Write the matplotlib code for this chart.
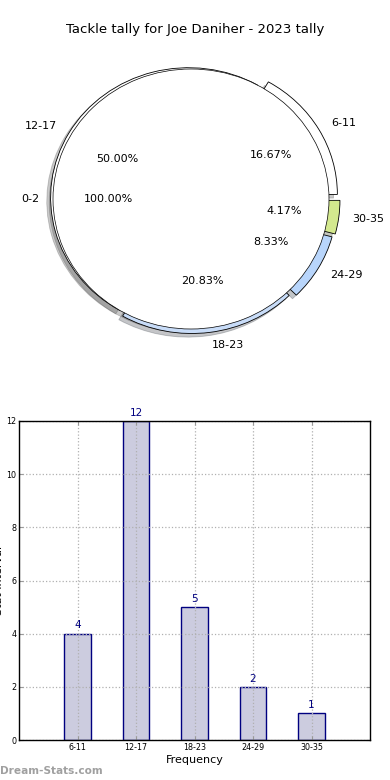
import matplotlib
matplotlib.use("Agg")
import matplotlib.pyplot as plt
from matplotlib.patches import Shadow

# data
categories = ["6-11", "12-17", "18-23", "24-29", "30-35"]
counts = [4, 12, 5, 2, 1]
pie_colors = ["#ffffff", "#ffffff", "#c8dcf8", "#b8d5fb", "#d3e88e"]
explode = [0.07, 0.02, 0.035, 0.065, 0.08]
outer_label = ["0-2"]
outer_value = [1]
yticks = [0, 2, 4, 6, 8, 10, 12]

fig = plt.figure(figsize=(3.9, 7.8), dpi=100)
fig.text(0.5, 1 - 30 / 780, "Tackle tally for Joe Daniher - 2023 tally",
         ha="center", va="center", fontsize=9.5)

# --- pie (exploded wedges with a full white disc over them) ---
ax1 = fig.add_axes([18.5 / 390, 1 - 361.5 / 780, 345 / 390, 325 / 780])
wp = dict(edgecolor="black", linewidth=0.6)
ax1.pie(counts, labels=categories, explode=explode, colors=pie_colors,
        autopct="%.2f%%", shadow=True, startangle=0, wedgeprops=wp,
        textprops=dict(fontsize=8))
ax1.pie(outer_value, labels=outer_label, colors=["white"], autopct="%.2f%%",
        shadow=True, startangle=0, wedgeprops=dict(edgecolor="black", linewidth=0.5),
        textprops=dict(fontsize=8))
for p in ax1.patches:
    if isinstance(p, Shadow):
        p.set_alpha(0.3)
ax1.set_aspect("auto")
ax1.set_xlim(-1.25, 1.25)
ax1.set_ylim(-1.25, 1.25)
ax1.axis("off")

# --- bar chart ---
ax2 = fig.add_axes([19 / 390, 1 - 740 / 780, 351 / 390, 319 / 780])
xpos = list(range(1, len(categories) + 1))
ax2.bar(xpos, counts, width=0.45, color="#ccccdf", edgecolor="navy", linewidth=1)
for x, v in zip(xpos, counts):
    ax2.text(x, v + 0.12, str(v), ha="center", va="bottom", color="navy", fontsize=7.5)

ax2.set_xlim(0, 6)
ax2.set_ylim(0, 12)
ax2.set_xticks(xpos)
ax2.set_xticklabels(categories, fontsize=5.8)
ax2.set_yticks(yticks)
ax2.set_yticklabels([str(t) for t in yticks], fontsize=5.8)
ax2.tick_params(direction="in", length=3, color="#999999", top=True, right=True, pad=2)
ax2.grid(True, linestyle=":", color="#b0b0b0", linewidth=0.9)
for s in ax2.spines.values():
    s.set_linewidth(1)
ax2.set_xlabel("Frequency", fontsize=8, labelpad=2)
ax2.set_ylabel("Stat Interval", fontsize=8)
ax2.yaxis.set_label_coords(-0.043, 0.5)

fig.text(0.0, 1 - 771 / 780, "Dream-Stats.com", ha="left", va="center",
         fontsize=7.6, fontweight="bold", color="#a0a0a0")

fig.savefig("out.png", dpi=100)
